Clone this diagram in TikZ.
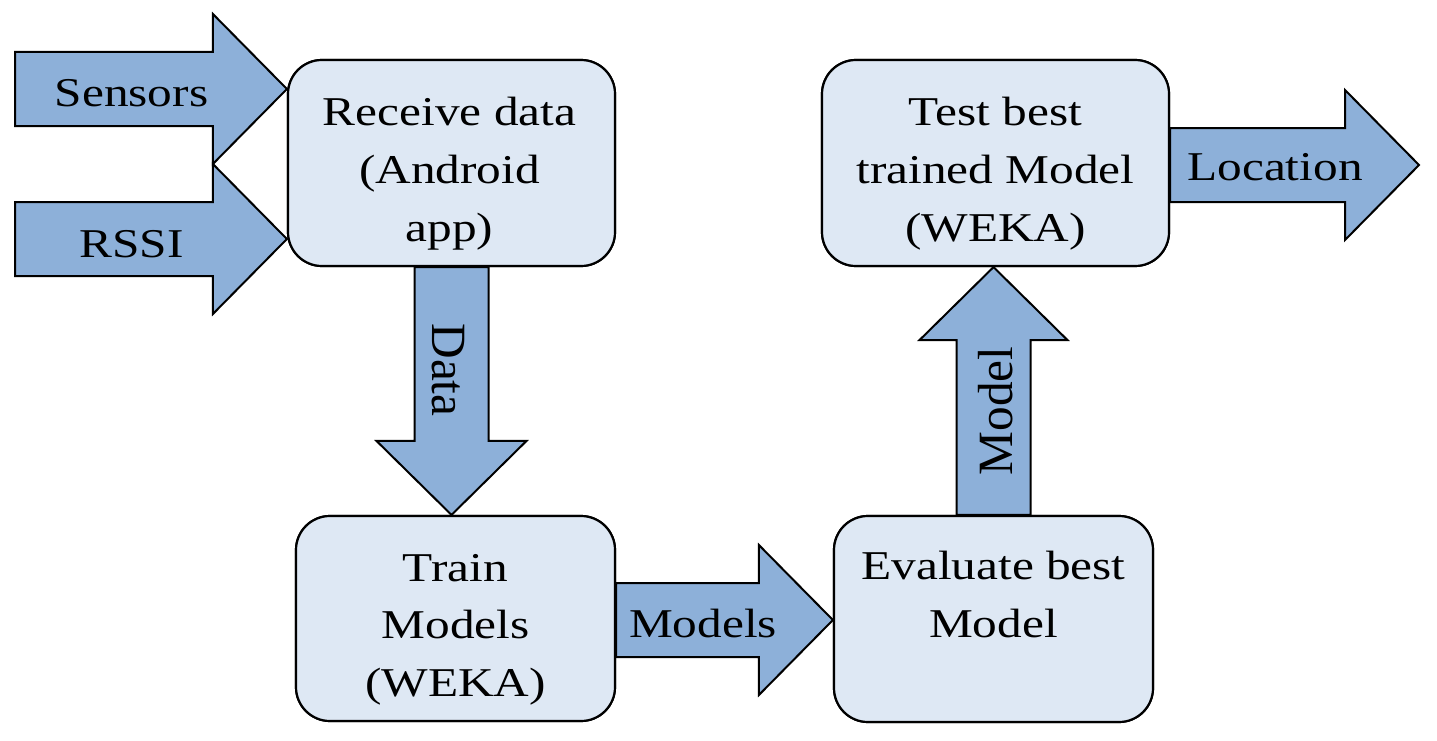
\documentclass[tikz,border=0pt]{standalone}
\usepackage{fontspec}
\setmainfont{Liberation Serif}
\usetikzlibrary{calc}
\definecolor{arrowfill}{RGB}{141,176,217}
\definecolor{boxfill}{RGB}{222,232,244}
\newcommand\sqline[1]{\scalebox{1}[0.83]{#1}}
\begin{document}
\begin{tikzpicture}[x=1bp,y=-1bp,
  procbox/.style={draw=black, line width=2.2bp, fill=boxfill, rounded corners=34bp, inner sep=0pt},
  boxtext/.style={anchor=north, inner sep=0pt, align=center, font=\fontsize{49.5}{58}\selectfont},
  blockarrow/.style={draw=black, line width=2bp, fill=arrowfill, line join=miter},
  arrowtext/.style={anchor=base, inner sep=0pt, font=\fontsize{49.5}{58}\selectfont}]
\useasboundingbox (0,0) rectangle (1437,740);

% process boxes (shapes)
\node[procbox, minimum width=327bp, minimum height=206bp] (recv)  at (451.5,163) {};
\node[procbox, minimum width=319bp, minimum height=205bp] (train) at (455.5,618.5) {};
\node[procbox, minimum width=319bp, minimum height=206bp] (eval)  at (993.5,619) {};
\node[procbox, minimum width=347bp, minimum height=206bp] (test)  at (995.5,163) {};

% connector end points
\coordinate (sensS) at (15,89);
\coordinate (sensT) at (recv.west |- sensS);
\coordinate (rssiS) at (15,239);
\coordinate (rssiT) at (recv.west |- rssiS);
\coordinate (dataS) at (recv.south);
\coordinate (dataT) at (recv.south |- train.north);
\coordinate (modsS) at (train.east |- 0,620);
\coordinate (modsT) at (eval.west |- modsS);
\coordinate (modS) at (eval.north);
\coordinate (modT) at (eval.north |- test.south);
\coordinate (locS) at (test.east |- 0,165);
\coordinate (locT) at (1419,165);

% horizontal block arrows (to the right)
\foreach \s/\t in {sensS/sensT, rssiS/rssiT, modsS/modsT, locS/locT}{
  \draw[blockarrow] ($(\s)+(0,-37)$) -- ($(\t)+(-74,-37)$) -- ($(\t)+(-74,-75)$) -- (\t)
     -- ($(\t)+(-74,75)$) -- ($(\t)+(-74,37)$) -- ($(\s)+(0,37)$) -- cycle;
}
% downward block arrow
\draw[blockarrow] ($(dataS)+(-37,0)$) -- ($(dataT)+(-37,-74)$) -- ($(dataT)+(-75,-74)$) -- (dataT)
   -- ($(dataT)+(75,-74)$) -- ($(dataT)+(37,-74)$) -- ($(dataS)+(37,0)$) -- cycle;
% upward block arrow
\draw[blockarrow] ($(modS)+(-37,0)$) -- ($(modT)+(-37,73)$) -- ($(modT)+(-74,73)$) -- (modT)
   -- ($(modT)+(74,73)$) -- ($(modT)+(37,73)$) -- ($(modS)+(37,0)$) -- cycle;

% redraw boxes on top of the arrow bases
\node[procbox, minimum width=327bp, minimum height=206bp] at (recv) {};
\node[procbox, minimum width=319bp, minimum height=205bp] at (train) {};
\node[procbox, minimum width=319bp, minimum height=206bp] at (eval) {};
\node[procbox, minimum width=347bp, minimum height=206bp] at (test) {};

% box texts
\node[boxtext] (recvtxt)  at ($(recv.north)+(-2,38)$) {\sqline{Receive data}\\\sqline{(Android}\\\sqline{app)}};
\node[boxtext] (traintxt) at ($(train.north)+(0,39)$) {\sqline{Train}\\\sqline{Models}\\\sqline{(WEKA)}};
\node[boxtext] (evaltxt)  at ($(eval.north)+(0,36)$) {\sqline{Evaluate best}\\\sqline{Model}};
\node[boxtext] (testtxt)  at ($(test.north)+(0,38)$) {\sqline{Test best}\\\sqline{trained Model}\\\sqline{(WEKA)}};

% arrow labels
\node[arrowtext] (sensl) at (131.5,106) {\sqline{Sensors}};
\node[arrowtext] (rssil) at (131.5,257) {\sqline{RSSI}};
\node[arrowtext] (modsl) at (703,637) {\sqline{Models}};
\node[arrowtext] (locl)  at (1275,180) {\sqline{Location}};
\node[arrowtext, rotate=-90] (datal) at (432,370) {Data};
\node[arrowtext, rotate=90]  (modl)  at (1012,411) {Model};
\end{tikzpicture}
\end{document}
